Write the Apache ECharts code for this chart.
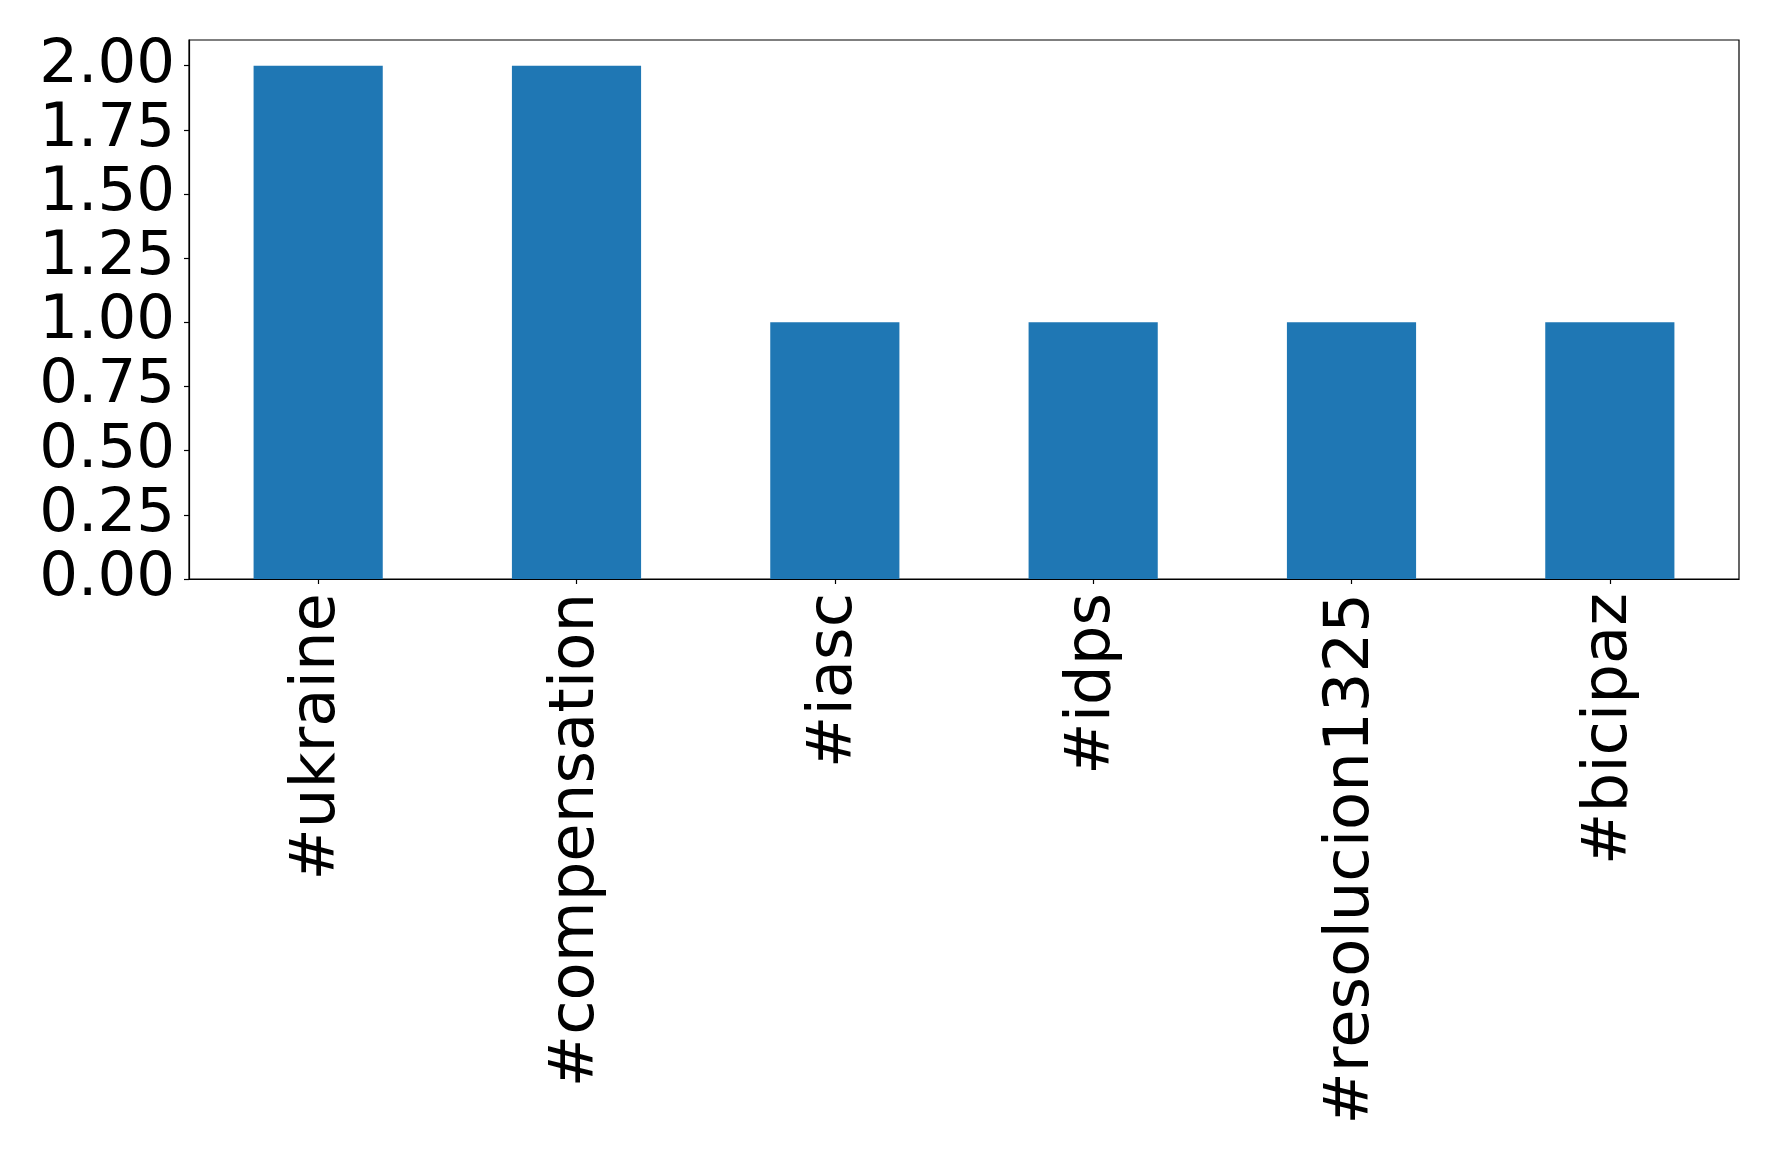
<!DOCTYPE html>
<html>
<head>
<meta charset="utf-8">
<script src="https://cdn.jsdelivr.net/npm/echarts@6/dist/echarts.min.js"></script>
<style>
html,body{margin:0;padding:0;background:#fff;}
#chart{width:1778px;height:1160px;}
</style>
</head>
<body>
<div id="chart"></div>
<script>
const categories = ['#ukraine', '#compensation', '#iasc', '#idps', '#resolucion1325', '#bicipaz'];
const counts = [2, 2, 1, 1, 1, 1];
const yTicks = [0, 0.25, 0.5, 0.75, 1.0, 1.25, 1.5, 1.75, 2.0];

const chart = echarts.init(document.getElementById('chart'), null, {renderer: 'canvas'});
const font = 'DejaVu Sans';
chart.setOption({
  animation: false,
  backgroundColor: '#ffffff',
  grid: {
    left: 189, right: 39, top: 40, bottom: 581,
    show: true, borderColor: '#000', borderWidth: 1.2, backgroundColor: 'transparent'
  },
  xAxis: {
    type: 'category',
    data: categories,
    axisLine: {show: true, lineStyle: {color: '#000', width: 1.2}},
    axisTick: {show: true, alignWithLabel: true, length: 5, lineStyle: {color: '#000', width: 1.2}},
    axisLabel: {rotate: 90, fontFamily: font, fontSize: 62.5, color: '#000', margin: 14}
  },
  yAxis: {
    type: 'value',
    min: 0, max: 2.1,
    interval: 0.25,
    splitLine: {show: false},
    axisLine: {show: true, lineStyle: {color: '#000', width: 1.2}},
    axisTick: {show: true, length: 5, customValues: yTicks, lineStyle: {color: '#000', width: 1.2}},
    axisLabel: {
      customValues: yTicks,
      fontFamily: font, fontSize: 61, color: '#000', margin: 14,
      formatter: v => v.toFixed(2)
    }
  },
  series: [{
    type: 'bar',
    data: counts,
    barWidth: '50%',
    itemStyle: {color: '#1f77b4'}
  }]
});
</script>
</body>
</html>
